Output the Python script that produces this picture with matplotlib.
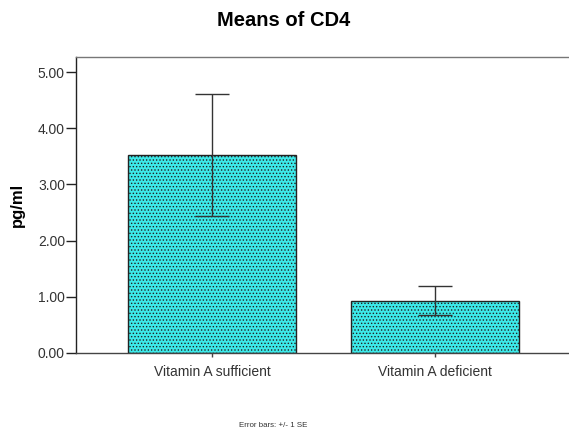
import matplotlib.pyplot as plt
import matplotlib as mpl

plt.rcParams['font.family'] = ['Liberation Sans', 'DejaVu Sans']
mpl.rcParams['hatch.color'] = '#2a8e8e'
mpl.rcParams['hatch.linewidth'] = 0.6

# Data
groups = ['Vitamin A sufficient', 'Vitamin A deficient']
means = [3.52, 0.93]
se = [1.09, 0.26]
yticks = [0.0, 1.0, 2.0, 3.0, 4.0, 5.0]

fig = plt.figure(figsize=(5.69, 4.36), dpi=100)
ax = fig.add_axes([0.1336, 0.1904, 0.8664, 0.6789])

x = range(len(groups))
ax.bar(x, means, width=0.753, color='#3ceaea', edgecolor='#222222',
       linewidth=1.0, hatch='.....')
ax.errorbar(x, means, yerr=se, fmt='none', ecolor='#333333',
            elinewidth=1.0, capsize=12, capthick=1.0)

ax.set_xlim(-0.61, 1.60)
ax.set_ylim(0, 5.27)
ax.set_yticks(yticks)
ax.set_yticklabels(['%.2f' % v for v in yticks], fontsize=10, color='#333333')
ax.set_xticks(list(x))
ax.set_xticklabels(groups, fontsize=10, color='#333333')
ax.tick_params(axis='y', length=7, width=1, color='#222222', pad=1)
ax.tick_params(axis='x', length=3, width=1, color='#444444', pad=6)

ax.spines['right'].set_visible(False)
ax.spines['left'].set_color('#222222')
ax.spines['bottom'].set_color('#444444')
ax.spines['top'].set_color('#777777')
for s in ['left', 'bottom', 'top']:
    ax.spines[s].set_linewidth(1.0)

ax.set_ylabel('pg/ml', fontsize=12, fontweight='bold', labelpad=9)
fig.text(0.499, 0.954, 'Means of CD4', fontsize=14.5, fontweight='bold',
         ha='center', va='center')
fig.text(0.48, 0.023, 'Error bars: +/- 1 SE', fontsize=5.7, color='#333333',
         ha='center', va='center')

plt.savefig('out.png', dpi=100)
